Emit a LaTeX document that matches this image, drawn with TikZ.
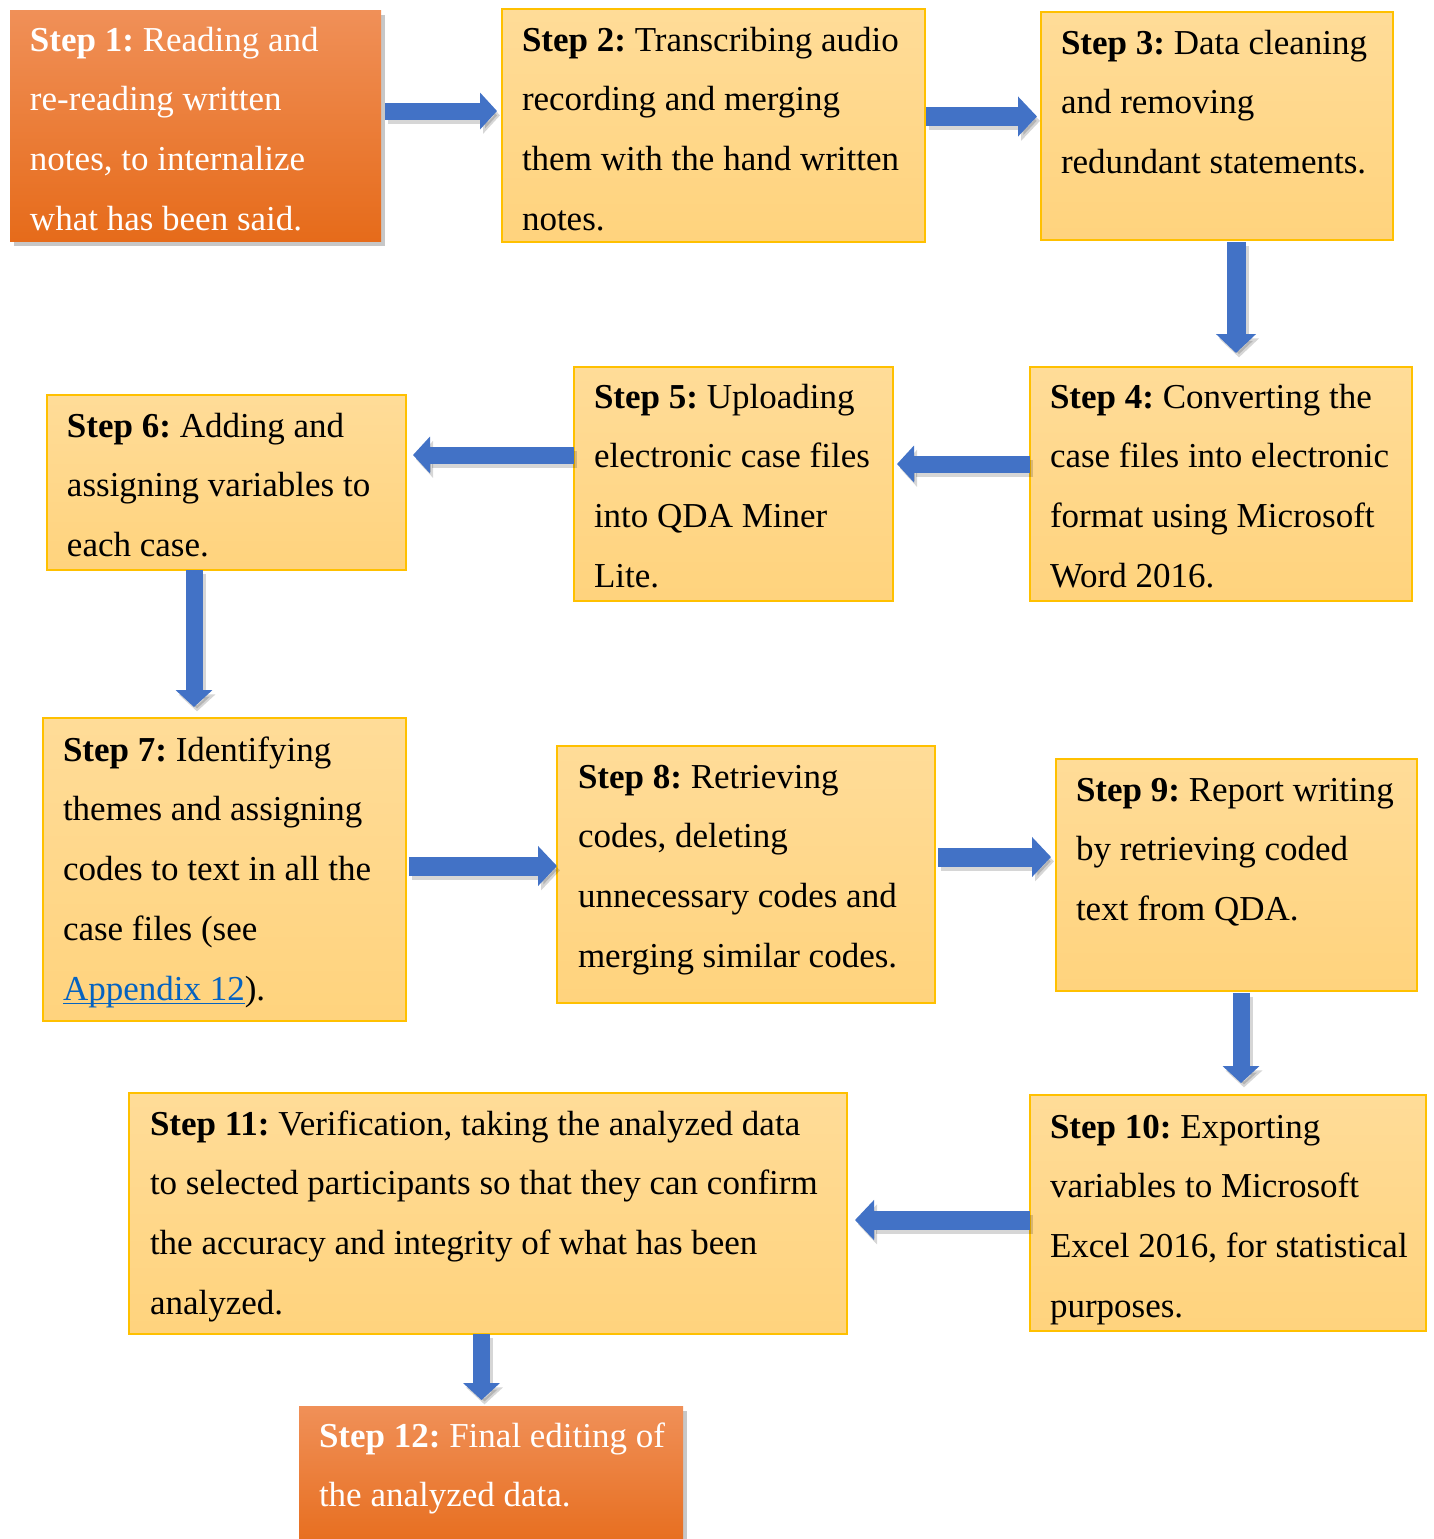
\documentclass[tikz,border=0pt]{standalone}
\usepackage{fontspec}
\setmainfont{Liberation Serif}
\usetikzlibrary{arrows.meta,shadows}
\definecolor{ytop}{RGB}{255,220,152}
\definecolor{ybot}{RGB}{255,211,125}
\definecolor{yborder}{RGB}{255,192,0}
\definecolor{otop}{RGB}{240,144,88}
\definecolor{omid}{RGB}{243,126,42}
\definecolor{obot}{RGB}{230,107,26}
\definecolor{arrowblue}{RGB}{66,114,198}
\definecolor{linkblue}{RGB}{5,99,193}
\newcommand{\bkarrow}[3]{%
  \draw[#1, bshadow] #2 -- #3;
  \draw[#1, draw=arrowblue] #2 -- #3;}
\newcommand{\firstline}{\rule{0pt}{20pt}}
\frenchspacing
\begin{document}
\frenchspacing
\begin{tikzpicture}[x=0.5pt,y=-0.5pt,
  box/.style={rectangle, anchor=north west, inner sep=0pt, outer sep=0pt},
  ybox/.style={box, draw=yborder, line width=0.75pt, top color=ytop, bottom color=ybot},
  obox/.style={box, top color=otop, middle color=omid, bottom color=obot,
     drop shadow={shadow xshift=2pt, shadow yshift=-2.5pt, opacity=0.22, fill=black}},
  txt/.style={anchor=north west, inner sep=0pt, outer sep=0pt, align=left,
     font=\fontsize{17.5pt}{29.9pt}\selectfont\frenchspacing},
  wtxt/.style={txt, text=white},
  barrow/.style={line width=8.5pt, -{Triangle[width=18pt, length=8.5pt]}},
  barrowL/.style={line width=9.5pt, -{Triangle[width=19.5pt, length=9.5pt]}},
  bshadow/.style={draw=black, opacity=0.16, transform canvas={shift={(1.5pt,-2.2pt)}}}
]
\clip (0,0) rectangle (1434,1539);

% boxes
\node[obox, minimum width=185.5pt, minimum height=115.5pt] (b1) at (10,10) {};
\node[ybox, minimum width=211.5pt, minimum height=116.5pt] (b2) at (502,9) {};
\node[ybox, minimum width=176pt, minimum height=114pt] (b3) at (1041,12) {};
\node[ybox, minimum width=191pt, minimum height=117pt] (b4) at (1030,367) {};
\node[ybox, minimum width=159.5pt, minimum height=117pt] (b5) at (574,367) {};
\node[ybox, minimum width=179.5pt, minimum height=87.5pt] (b6) at (47,395) {};
\node[ybox, minimum width=181.5pt, minimum height=151.5pt] (b7) at (43,718) {};
\node[ybox, minimum width=189pt, minimum height=128.5pt] (b8) at (557,746) {};
\node[ybox, minimum width=180.5pt, minimum height=116pt] (b9) at (1056,759) {};
\node[ybox, minimum width=198pt, minimum height=118pt] (b10) at (1030,1095) {};
\node[ybox, minimum width=359pt, minimum height=120.5pt] (b11) at (129,1093) {};
\node[obox, minimum width=192pt, minimum height=75pt] (b12) at (299,1406) {};

% texts
\node[wtxt] (t1) at (30,11) {\firstline\textbf{Step 1:} Reading and\\re-reading written\\notes, to internalize\\what has been said.};
\node[txt] (t2) at (522,11) {\firstline\textbf{Step 2:} Transcribing audio\\recording and merging\\them with the hand written\\notes.};
\node[txt] (t3) at (1061,14) {\firstline\textbf{Step 3:} Data cleaning\\and removing\\redundant statements.};
\node[txt] (t4) at (1050,368) {\firstline\textbf{Step 4:} Converting the\\case files into electronic\\format using Microsoft\\Word 2016.};
\node[txt] (t5) at (594,368) {\firstline\textbf{Step 5:} Uploading\\electronic case files\\into QDA Miner\\Lite.};
\node[txt] (t6) at (67,397) {\firstline\textbf{Step 6:} Adding and\\assigning variables to\\each case.};
\node[txt] (t7) at (63,721) {\firstline\textbf{Step 7:} Identifying\\themes and assigning\\codes to text in all the\\case files (see\\\textcolor{linkblue}{\underline{\smash{Appendix 12}}}).};
\node[txt] (t8) at (578,748) {\firstline\textbf{Step 8:} Retrieving\\codes, deleting\\unnecessary codes and\\merging similar codes.};
\node[txt] (t9) at (1076,761) {\firstline\textbf{Step 9:} Report writing\\by retrieving coded\\text from QDA.};
\node[txt] (t10) at (1050,1098) {\firstline\textbf{Step 10:} Exporting\\variables to Microsoft\\Excel 2016, for statistical\\purposes.};
\node[txt] (t11) at (150,1095) {\firstline\textbf{Step 11:} Verification, taking the analyzed data\\to selected participants so that they can confirm\\the accuracy and integrity of what has been\\analyzed.};
\node[wtxt] (t12) at (319,1407) {\firstline\textbf{Step 12:} Final editing of\\the analyzed data.};

% arrow levels
\coordinate (h12) at (0,111);
\coordinate (h23) at (0,116.5);
\coordinate (v34) at (1236,0);
\coordinate (h45) at (0,464);
\coordinate (h56) at (0,455);
\coordinate (v67) at (194,0);
\coordinate (h78) at (0,866);
\coordinate (h89) at (0,857);
\coordinate (v910) at (1241,0);
\coordinate (h1011) at (0,1220);
\coordinate (v1112) at (481.5,0);

% arrows
\bkarrow{barrow, shorten <=2pt, shorten >=2.5pt}{(b1.east |- h12)}{(b2.west |- h12)}
\bkarrow{barrowL, shorten <=0.5pt, shorten >=2pt}{(b2.east |- h23)}{(b3.west |- h23)}
\bkarrow{barrowL, shorten <=1pt, shorten >=7pt}{(b3.south -| v34)}{(b4.north -| v34)}
\bkarrow{barrow, shorten <=0pt, shorten >=2pt}{(b4.west |- h45)}{(b5.east |- h45)}
\bkarrow{barrow, shorten <=0pt, shorten >=3.5pt}{(b5.west |- h56)}{(b6.east |- h56)}
\bkarrow{barrow, shorten <=0pt, shorten >=5.5pt}{(b6.south -| v67)}{(b7.north -| v67)}
\bkarrow{barrowL, shorten <=1.5pt, shorten >=0pt}{(b7.east |- h78)}{(b8.west |- h78)}
\bkarrow{barrowL, shorten <=1.5pt, shorten >=2.5pt}{(b8.east |- h89)}{(b9.west |- h89)}
\bkarrow{barrow, shorten <=1pt, shorten >=6pt}{(b9.south -| v910)}{(b10.north -| v910)}
\bkarrow{barrowL, shorten <=0pt, shorten >=4pt}{(b10.west |- h1011)}{(b11.east |- h1011)}
\bkarrow{barrow, shorten <=0pt, shorten >=3pt}{(b11.south -| v1112)}{(b12.north -| v1112)}
\end{tikzpicture}
\end{document}
